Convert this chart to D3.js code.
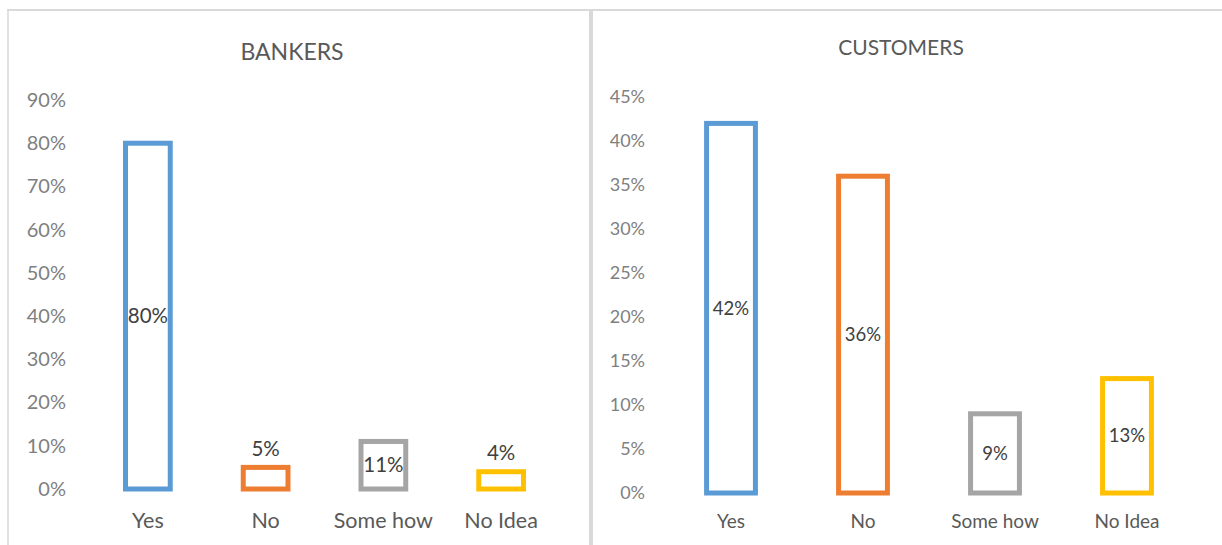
<!DOCTYPE html>
<html>
<head>
<meta charset="utf-8">
<script src="https://cdn.jsdelivr.net/npm/d3@7"></script>
<style>
  html, body { margin: 0; padding: 0; background: #fff; }
  svg { display: block; font-family: Lato, "Open Sans", sans-serif; }
</style>
</head>
<body>
<svg id="chart" width="1222" height="545"></svg>
<script>
// Survey answers, shared category order
const categories = ["Yes", "No", "Some how", "No Idea"];
const barColors = ["#5b9bd5", "#ed7d31", "#a5a5a5", "#ffc000"];

// Bankers' responses
const bankersValues = [0.80, 0.05, 0.11, 0.04];
const bankersTicks = [0, 0.1, 0.2, 0.3, 0.4, 0.5, 0.6, 0.7, 0.8, 0.9];
// where each bankers' label sits: centred in the bar or just above it
const bankersLabelPos = ["center", "above", "center", "above"];

// Customers' responses
const customersValues = [0.42, 0.36, 0.09, 0.13];
const customersTicks = [0, 0.05, 0.1, 0.15, 0.2, 0.25, 0.3, 0.35, 0.4, 0.45];
const customersLabelPos = ["center", "center", "center", "center"];

const svg = d3.select("#chart");
const pct = d3.format(".0%");

// panel frames
const frame = svg.append("g").attr("stroke", "#d9d9d9").attr("fill", "none");
frame.append("line").attr("x1", 7).attr("x2", 1222).attr("y1", 10).attr("y2", 10).attr("stroke-width", 2);
frame.append("line").attr("x1", 8).attr("x2", 8).attr("y1", 10).attr("y2", 545).attr("stroke-width", 1.5);
frame.append("line").attr("x1", 591).attr("x2", 591).attr("y1", 10).attr("y2", 545).attr("stroke-width", 4);

function panel(cfg) {
  const g = svg.append("g");
  const x = d3.scaleBand().domain(categories).range(cfg.xRange)
    .paddingInner(cfg.pad).paddingOuter(cfg.pad / 2);
  const y = d3.scaleLinear().domain([0, cfg.ticks[cfg.ticks.length - 1]]).range(cfg.yRange);

  // title
  g.append("text")
    .attr("x", cfg.titleX).attr("y", cfg.titleY)
    .attr("text-anchor", "middle")
    .attr("font-size", cfg.titleSize)
    .attr("fill", "#595959")
    .text(cfg.title);

  // value axis (labels only)
  const ya = g.append("g")
    .attr("transform", `translate(${cfg.xRange[0]},0)`)
    .call(d3.axisLeft(y).tickValues(cfg.ticks).tickFormat(pct).tickSize(0).tickPadding(cfg.tickPad));
  ya.select(".domain").remove();
  ya.selectAll("text")
    .attr("font-family", "Lato, sans-serif")
    .attr("font-size", cfg.tickSize)
    .attr("fill", "#7f7f7f");

  // category axis (labels only)
  const xa = g.append("g")
    .attr("transform", `translate(0,${cfg.yRange[0]})`)
    .call(d3.axisBottom(x).tickSize(0).tickPadding(cfg.catPad));
  xa.select(".domain").remove();
  xa.selectAll("text")
    .attr("font-family", "Lato, sans-serif")
    .attr("font-size", cfg.catSize)
    .attr("fill", "#595959");

  const data = categories.map((c, i) => ({ c, v: cfg.values[i], color: barColors[i], pos: cfg.labelPos[i] }));

  // outlined bars
  g.selectAll("rect.bar").data(data).join("rect")
    .attr("class", "bar")
    .attr("x", d => x(d.c))
    .attr("width", x.bandwidth())
    .attr("y", d => y(d.v))
    .attr("height", d => y(0) - y(d.v))
    .attr("fill", "#fff")
    .attr("stroke", d => d.color)
    .attr("stroke-width", 5);

  // value labels
  g.selectAll("text.val").data(data).join("text")
    .attr("class", "val")
    .attr("x", d => x(d.c) + x.bandwidth() / 2)
    .attr("y", d => d.pos === "above" ? y(d.v) - 19 : (y(d.v) + y(0)) / 2)
    .attr("dy", "0.35em")
    .attr("text-anchor", "middle")
    .attr("font-size", cfg.valSize)
    .attr("fill", "#404040")
    .text(d => pct(d.v));
}

panel({
  title: "BANKERS", titleX: 292, titleY: 60, titleSize: 23,
  values: bankersValues, ticks: bankersTicks, labelPos: bankersLabelPos,
  xRange: [89, 560], yRange: [489, 100], pad: 0.62,
  tickPad: 23, tickSize: 20, catPad: 24, catSize: 21.5, valSize: 20.5
});

panel({
  title: "CUSTOMERS", titleX: 901, titleY: 55, titleSize: 21,
  values: customersValues, ticks: customersTicks, labelPos: customersLabelPos,
  xRange: [665, 1193], yRange: [493, 97], pad: 0.63,
  tickPad: 20, tickSize: 18, catPad: 22, catSize: 19, valSize: 18.5
});
</script>
</body>
</html>
